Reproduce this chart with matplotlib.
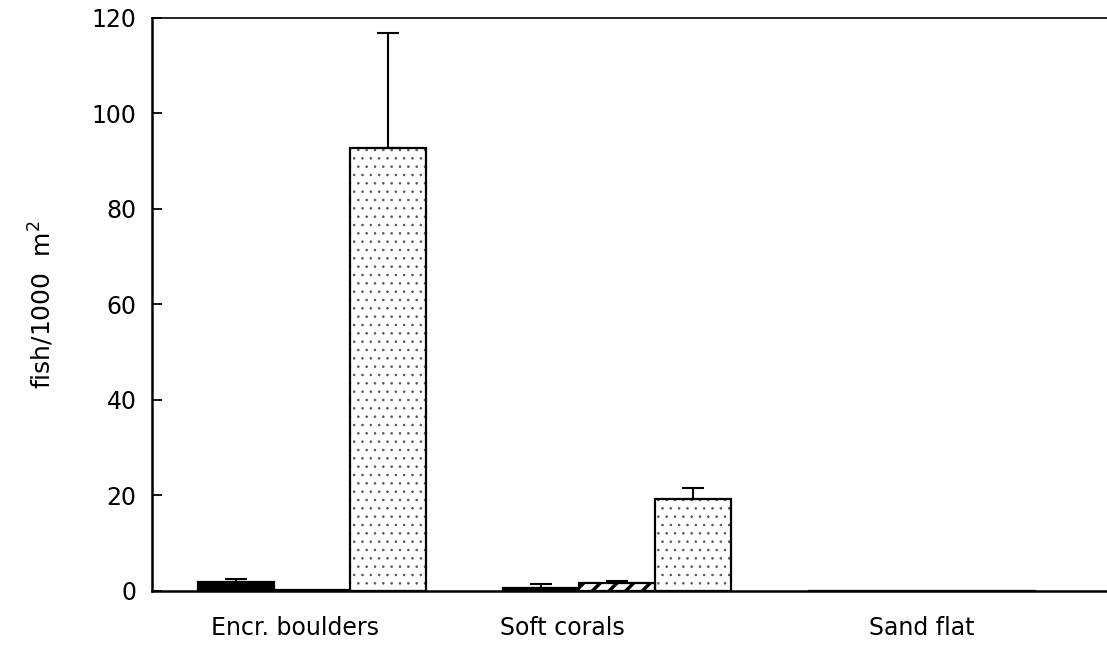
import numpy as np
import matplotlib
matplotlib.use("Agg")
import matplotlib.pyplot as plt

# fish density per habitat (fish / 1000 m^2), three groups per habitat
habitats = ['Encr. boulders', 'Soft corals', 'Sand flat']
solid_mean = [1.9, 0.6, 0.0]
solid_err = [0.7, 0.8, 0.0]
hatched_mean = [0.2, 1.7, 0.0]
hatched_err = [0.0, 0.4, 0.0]
dotted_mean = [92.8, 19.3, 0.0]
dotted_err = [24.1, 2.3, 0.0]

y_ticks = [0, 20, 40, 60, 80, 100, 120]

plt.rcParams['font.family'] = ['DejaVu Sans']

fig = plt.figure(figsize=(11.07, 6.52), dpi=100)
ax = fig.add_axes([0.1373, 0.0936, 0.8627, 0.8788])

x = np.arange(len(habitats))
w = 0.25


def draw(offset, means, errs, color, hatch=None, hatch_color='black', hatch_lw=1.0):
    if hatch:
        with plt.rc_context({'hatch.linewidth': hatch_lw, 'hatch.color': hatch_color}):
            fill = ax.bar(x + offset, means, width=w, color=color,
                          edgecolor=hatch_color, linewidth=0, hatch=hatch, zorder=2)
            for p in fill:
                if hasattr(p, 'set_hatch_linewidth'):
                    p.set_hatch_linewidth(hatch_lw)
        ax.bar(x + offset, means, width=w, fill=False, edgecolor='black',
               linewidth=1.6, zorder=2.5)
    else:
        ax.bar(x + offset, means, width=w, color=color, edgecolor='black',
               linewidth=1.6, zorder=2)
    for xi, m, e in zip(x + offset, means, errs):
        if e > 0:
            ax.errorbar(xi, m, yerr=[[0], [e]], fmt='none', ecolor='black',
                        elinewidth=1.5, capsize=8, capthick=1.5, zorder=3)


draw(-w, solid_mean, solid_err, 'black')
draw(0, hatched_mean, hatched_err, 'white', '//', 'black', 2.5)
draw(w, dotted_mean, dotted_err, 'white', '..', '#555555', 0.6)

ax.set_xlim(-0.525, 2.607)
ax.set_ylim(0, 120)
ax.set_yticks(y_ticks)
ax.set_yticklabels([str(v) for v in y_ticks], fontsize=17)

# category labels sit a little left of the bar groups
ax.set_xticks([-0.056, 0.82, 2.0])
ax.set_xticklabels(habitats, fontsize=17)
ax.tick_params(axis='x', length=0, pad=18)
ax.tick_params(axis='y', direction='in', length=7, width=1.3, pad=11)

ax.set_ylabel('fish/1000  m$^{2}$', fontsize=18, labelpad=26)

ax.spines['left'].set_linewidth(1.8)
ax.spines['bottom'].set_linewidth(1.8)
ax.spines['top'].set_linewidth(1.2)
ax.spines['right'].set_visible(False)

fig.savefig('out.png', dpi=100)
